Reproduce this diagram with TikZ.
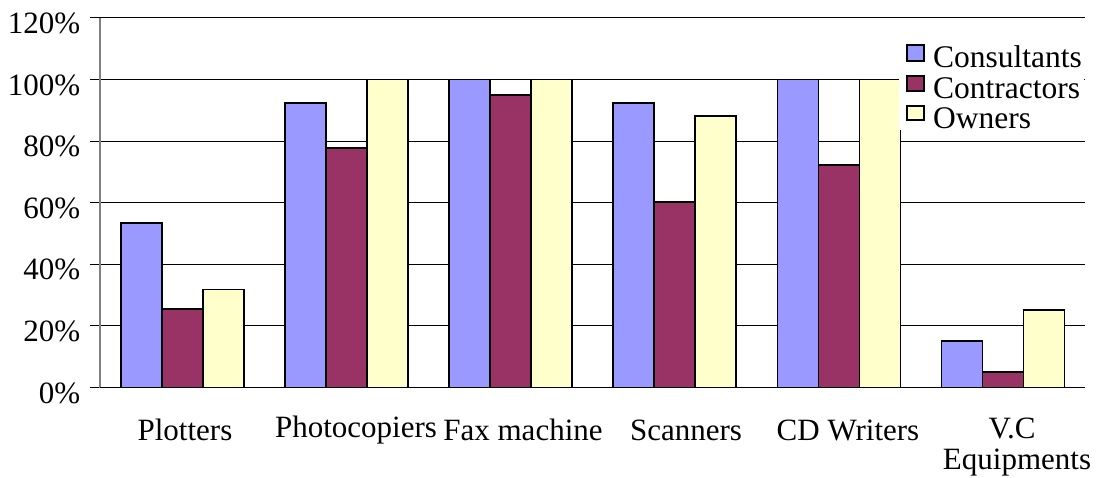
\documentclass[tikz,border=0pt]{standalone}
\usepackage{fontspec}
\setmainfont{Liberation Serif}
\definecolor{cons}{HTML}{9999FF}
\definecolor{contr}{HTML}{993366}
\definecolor{own}{HTML}{FFFFCC}
\begin{document}
\begin{tikzpicture}[x=1pt,y=-1pt,
  bar/.style={draw=black,line width=1.7pt},
  grid/.style={draw=black,line width=1pt},
  lbl/.style={font=\fontsize{31}{36}\selectfont,inner sep=0pt},
  keytext/.style={font=\fontsize{31.5}{36}\selectfont,inner sep=0pt,anchor=base west},
  key/.style={draw=black,line width=1.3pt}]
\useasboundingbox (0,0) rectangle (1098,477);
% value axis: gridlines and labels
\foreach \v in {0,20,...,120}{
  \draw[grid] (90,{387.5-\v*3.08}) -- (1085,{387.5-\v*3.08});
  \node[lbl,anchor=east] (tick\v) at (80.5,{393-\v*3.08}) {\v\%};
}
\draw[gray,line width=1.2pt] (100,18) -- (100,387.5);
% bars: consultants, contractors, owners
\foreach \i/\a/\b/\c in {0/53.3/25.4/31.8, 1/92.3/77.8/100, 2/100/95/100,
                         3/92.3/60.2/88.1, 4/100/72.2/100, 5/15.1/5.1/25.2}{
  \pgfmathsetmacro\x{120.7+164.17*\i}
  \draw[bar,fill=cons]  (\x,387.5) rectangle ({\x+41},{387.5-\a*3.08});
  \draw[bar,fill=contr] ({\x+41},387.5) rectangle ({\x+82},{387.5-\b*3.08});
  \draw[bar,fill=own]   ({\x+82},387.5) rectangle ({\x+123},{387.5-\c*3.08});
}
\draw[black,line width=1pt] (100,387.5) -- (1085,387.5);
% category labels
\node[lbl] (c1) at (185,430) {Plotters};
\node[lbl] (c2) at (356,430) {Photocopiers};
\node[lbl] (c3) at (523,430) {Fax machine};
\node[lbl] (c4) at (686,430) {Scanners};
\node[lbl] (c5) at (848,430) {CD Writers};
\node[lbl] (c6a) at (1012,428) {V.C};
\node[lbl] (c6b) at (1017,463) {Equipments};
% legend
\fill[white] (899,32) rectangle (1084,130);
\draw[key,fill=cons]  (907,45) rectangle (924,61);
\draw[key,fill=contr] (907,76) rectangle (924,91);
\draw[key,fill=own]   (907,106) rectangle (924,120);
\node[keytext] (k1) at (933,67) {Consultants};
\node[keytext] (k2) at (933,98) {Contractors};
\node[keytext] (k3) at (933,128) {Owners};
\end{tikzpicture}
\end{document}
